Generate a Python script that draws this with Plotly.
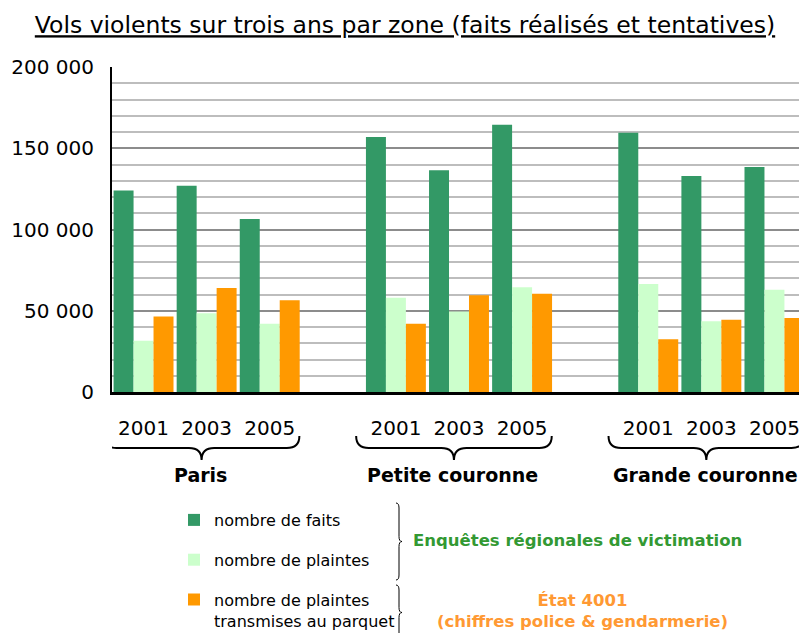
import plotly.graph_objects as go

zones = ["Paris", "Petite couronne", "Grande couronne"]
years = ["2001", "2003", "2005"]

# values, zone by zone, years 2001 / 2003 / 2005
nb_faits = [124000, 127000, 106500, 157000, 136500, 164500, 159500, 133000, 138500]
nb_plaintes = [31500, 48500, 42000, 58000, 49500, 64500, 66500, 43500, 63000]
nb_parquet = [46500, 64000, 56500, 42000, 59500, 60500, 32500, 44500, 45500]

series_names = ["nombre de faits", "nombre de plaintes",
                "nombre de plaintes<br>transmises au parquet"]
colors = ["#339966", "#ccffcc", "#ff9900"]

# the page body keeps its default 8px margin, so the figure is drawn 8px in
OFF = 8
W, H = 807 - OFF, 633 - OFF
ML, MR, MT, MB = 104, 1, 59, 241
FONT = "Tahoma, DejaVu Sans, sans-serif"


def px_x(px):
    # page pixel -> paper x
    return (px - OFF - ML) / (W - ML - MR)


def px_y(py):
    # page pixel -> paper y
    return (H - MB - (py - OFF)) / (H - MT - MB)


# one empty slot between zones
xpos = [g * 4 + j for g in range(len(zones)) for j in range(len(years))]
ticktext = [y for z in zones for y in years]

fig = go.Figure()
for name, vals, col in zip(series_names, [nb_faits, nb_plaintes, nb_parquet], colors):
    fig.add_trace(go.Bar(x=xpos, y=vals, name=name, marker_color=col,
                         marker_line_width=0, legendgroup=name))

fig.update_layout(
    width=W, height=H,
    margin=dict(l=ML, r=MR, t=MT, b=MB, autoexpand=False),
    plot_bgcolor="white", paper_bgcolor="white",
    barmode="group", bargap=0.05, bargroupgap=0,
    separators=", ",
    font=dict(family=FONT, color="black"),
    title=dict(text="<u>Vols violents sur trois ans par zone (faits réalisés et tentatives)</u>",
               x=(405 - OFF) / W, xref="container", xanchor="center",
               y=1 - (25 - OFF) / H, yanchor="middle",
               font=dict(size=23.5, family=FONT, color="black")),
    showlegend=True,
    legend=dict(x=px_x(174), y=px_y(503), xanchor="left", yanchor="top",
                font=dict(size=16, family=FONT), valign="top",
                tracegroupgap=16, bgcolor="rgba(0,0,0,0)"),
)

fig.update_xaxes(range=[-0.5, 10.5], tickvals=xpos, ticktext=ticktext,
                 showline=True, linecolor="black", linewidth=3,
                 ticks="", showgrid=False, zeroline=False, automargin=False,
                 tickfont=dict(size=20), ticklabelstandoff=16)
fig.update_yaxes(range=[0, 200000], dtick=50000, tickformat=",d",
                 showline=True, linecolor="black", linewidth=2,
                 ticks="", ticklabelstandoff=12, zeroline=False, automargin=False,
                 tickfont=dict(size=20),
                 showgrid=True, gridcolor="#8c8c8c", gridwidth=2,
                 minor=dict(dtick=10000, showgrid=True, gridcolor="#bdbdbd", gridwidth=2))

shapes = []
# braces under the year labels
for g, z in enumerate(zones):
    c = g * 4 + 1 - 0.08
    x0, x1 = c - 1.55, c + 1.55
    yt, ym, yb = px_y(436), px_y(448), px_y(460)
    path = (f"M{x0},{yt} Q{x0},{ym} {x0 + 0.2},{ym} L{c - 0.2},{ym} "
            f"Q{c},{ym} {c},{yb} Q{c},{ym} {c + 0.2},{ym} "
            f"L{x1 - 0.2},{ym} Q{x1},{ym} {x1},{yt}")
    shapes.append(dict(type="path", xref="x", yref="paper", path=path,
                       line=dict(color="black", width=2)))
    fig.add_annotation(x=c - 0.02, xref="x", y=px_y(475), yref="paper",
                       xanchor="center", yanchor="middle",
                       text=f"<b>{z}</b>", showarrow=False,
                       font=dict(size=19, family=FONT, color="black"))

# right braces grouping the legend entries
for ytop, ybot in [(503, 580), (585, 640)]:
    xa, xb, xc = px_x(396), px_x(399), px_x(402)
    ymid = (ytop + ybot) / 2
    path = (f"M{xa},{px_y(ytop)} Q{xb},{px_y(ytop)} {xb},{px_y(ytop + 5)} "
            f"L{xb},{px_y(ymid - 5)} Q{xb},{px_y(ymid)} {xc},{px_y(ymid)} "
            f"Q{xb},{px_y(ymid)} {xb},{px_y(ymid + 5)} "
            f"L{xb},{px_y(ybot - 5)} Q{xb},{px_y(ybot)} {xa},{px_y(ybot)}")
    shapes.append(dict(type="path", xref="paper", yref="paper", path=path,
                       line=dict(color="black", width=1)))

fig.update_layout(shapes=shapes)

fig.add_annotation(x=px_x(577), y=px_y(540), xref="paper", yref="paper",
                   xanchor="center", yanchor="middle",
                   text="<b>Enquêtes régionales de victimation</b>", showarrow=False,
                   font=dict(size=16.5, family=FONT, color="#339933"))
fig.add_annotation(x=px_x(582), y=px_y(611), xref="paper", yref="paper",
                   xanchor="center", yanchor="middle",
                   text="<b>État 4001<br>(chiffres police & gendarmerie)</b>", showarrow=False,
                   font=dict(size=16.5, family=FONT, color="#ff9933"))

fig.write_html("out.html")
